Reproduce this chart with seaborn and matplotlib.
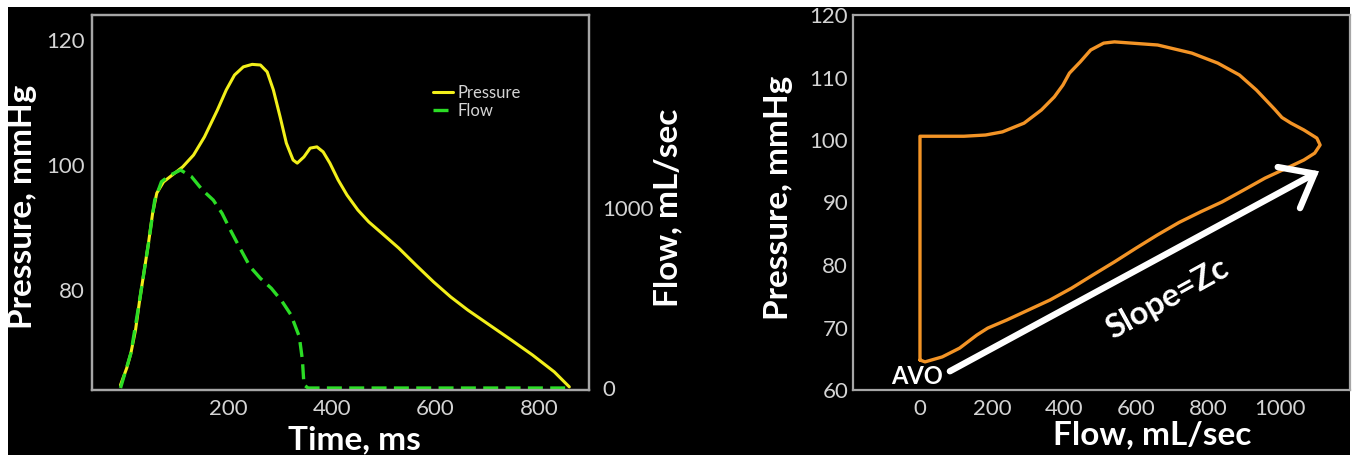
import matplotlib
matplotlib.use("Agg")
import matplotlib.pyplot as plt
import seaborn as sns
from matplotlib.patches import Rectangle

# --- data ---
# left panel: pressure and flow over one beat
time_p = [-8, 4, 12, 21, 29, 37, 46, 54, 62, 75, 92, 112, 133, 154, 179, 196,
          212, 229, 246, 262, 275, 287, 300, 312, 325, 333, 346, 358, 371, 383,
          396, 412, 429, 450, 471, 496, 529, 562, 596, 629, 662, 704, 746, 787,
          829, 858]
pressure = [64.8, 67.5, 69.9, 73.6, 78.4, 82.7, 87.5, 92.3, 95.5, 97.3, 98.4,
            99.7, 101.6, 104.5, 108.8, 112.0, 114.4, 115.7, 116.1, 116.0, 114.9,
            112.0, 107.7, 103.5, 100.8, 100.3, 101.3, 102.7, 102.9, 102.1, 100.3,
            97.6, 95.2, 92.8, 90.9, 89.1, 86.7, 84.0, 81.3, 78.9, 76.8, 74.4,
            72.0, 69.6, 66.9, 64.5]

time_f = [-8, 12, 29, 46, 58, 71, 88, 108, 129, 150, 171, 188, 204, 221, 242,
          262, 283, 304, 321, 337, 343, 346, 354, 850]
flow = [0, 193, 489, 804, 1044, 1146, 1183, 1211, 1174, 1100, 1044, 970, 878,
        785, 674, 609, 554, 480, 406, 285, 156, 17, 0, 0]

# right panel: pressure-flow loop
loop_flow = [0, 14, 62, 110, 158, 188, 241, 301, 361, 421, 480, 540, 600, 659,
             719, 779, 839, 899, 958, 1018, 1066, 1096, 1111,
             1102, 1066, 1030, 1005, 985, 934, 887, 827, 755, 660, 540, 510,
             474, 445, 415, 397, 373, 337, 289, 229, 182, 122, 0, 0]
loop_pressure = [64.8, 64.5, 65.3, 66.7, 68.8, 69.9, 71.2, 72.8, 74.4, 76.3,
                 78.4, 80.5, 82.7, 84.8, 86.8, 88.5, 90.1, 92.0, 93.9, 95.5,
                 96.8, 97.9, 99.2,
                 100.3, 101.6, 102.7, 103.6, 104.9, 108.0, 110.4, 112.3, 113.9,
                 115.2, 115.7, 115.5, 114.4, 112.5, 110.7, 108.8, 106.9, 104.8,
                 102.7, 101.3, 100.8, 100.6, 100.6, 64.8]

time_ticks = [200, 400, 600, 800]
pressure_ticks_left = [80, 100, 120]
flow_ticks_left = [0, 1000]
flow_ticks_right = [0, 200, 400, 600, 800, 1000]
pressure_ticks_right = [60, 70, 80, 90, 100, 110, 120]

# --- style ---
sns.set_theme(style="white")
plt.rcParams['font.family'] = ['Lato', 'DejaVu Sans']

W, H = 1357, 458
TICK_C = '#d4d4d4'
SPINE_C = '#a6a6a6'

fig = plt.figure(figsize=(W / 100, H / 100), dpi=100, facecolor='white')
fig.patches.append(Rectangle((8 / W, 3 / H), (1350 - 8) / W, (455 - 7) / H,
                             transform=fig.transFigure, facecolor='black',
                             edgecolor='none', zorder=-10))


def style_axes(a, xpad=6.5, ypad=4.5):
    a.set_facecolor('black')
    for s in a.spines.values():
        s.set_color(SPINE_C)
        s.set_linewidth(1.6)
    a.tick_params(colors=TICK_C, labelsize=16, length=0)
    a.tick_params(axis='x', pad=xpad)
    a.tick_params(axis='y', pad=ypad)


def set_label(lab):
    lab.set_color('white')
    lab.set_fontweight('bold')
    lab.set_fontsize(24)
    lab.set_va('center')
    lab.set_ha('center')


# --- left panel ---
ax = fig.add_axes([92 / W, 68 / H, 497 / W, 375 / H])
ax2 = ax.twinx()
style_axes(ax, ypad=5)
style_axes(ax2, ypad=9.5)
ax2.set_facecolor('none')

sns.lineplot(x=time_p, y=pressure, ax=ax, color='#f2ef1a', linewidth=2.2,
             legend=False)
sns.lineplot(x=time_f, y=flow, ax=ax2, color='#2bdc25', linewidth=2.4,
             linestyle=(0, (4.5, 2.2)), legend=False)

ax.set_xlim(-63, 896)
ax.set_ylim(64, 124)
ax2.set_ylim(-11, 2072)
ax.set_xticks(time_ticks)
ax.set_yticks(pressure_ticks_left)
ax2.set_yticks(flow_ticks_left)
ax.grid(False)
ax2.grid(False)

ax.set_xlabel('Time, ms')
ax.set_ylabel('Pressure, mmHg')
ax2.set_ylabel('Flow, mL/sec')
for lab in (ax.xaxis.label, ax.yaxis.label, ax2.yaxis.label):
    set_label(lab)
ax.xaxis.set_label_coords(0.529, -0.133)
ax.yaxis.set_label_coords(-0.139, 0.488)
ax2.yaxis.set_label_coords(1.159, 0.485)

leg = ax2.legend([ax.get_lines()[0], ax2.get_lines()[0]], ['Pressure', 'Flow'],
                 loc='upper left', bbox_to_anchor=(0.686, 0.813), frameon=False,
                 fontsize=12, handlelength=1.2, handletextpad=0.3,
                 labelspacing=0.1, borderpad=0, borderaxespad=0,
                 labelcolor='#d4d4d4')

# --- right panel ---
axr = fig.add_axes([853 / W, 68 / H, 497 / W, 375 / H])
style_axes(axr, ypad=3.5)
sns.lineplot(x=loop_flow, y=loop_pressure, ax=axr, sort=False, estimator=None,
             color='#f39426', linewidth=2.4, legend=False)
axr.set_xlim(-186, 1194)
axr.set_ylim(60, 120)
axr.set_xticks(flow_ticks_right)
axr.set_yticks(pressure_ticks_right)
axr.grid(False)
axr.set_xlabel('Flow, mL/sec')
axr.set_ylabel('Pressure, mmHg')
for lab in (axr.xaxis.label, axr.yaxis.label):
    set_label(lab)
axr.xaxis.set_label_coords(0.602, -0.12)
axr.yaxis.set_label_coords(-0.149, 0.512)

axr.annotate('', xy=(1108, 95.0), xytext=(83, 63.0),
             arrowprops=dict(arrowstyle='->, head_length=0.5, head_width=0.4',
                             color='white', lw=4.6, mutation_scale=42,
                             shrinkA=0, shrinkB=0, joinstyle='miter'))
axr.text(686, 74.6, 'Slope=Zc', rotation=29, rotation_mode='anchor',
         ha='center', va='center', fontsize=23.5, fontweight='bold', color='white')
axr.text(-8, 62.2, 'AVO', ha='center', va='center', fontsize=17,
         fontweight='bold', color='white')

fig.savefig('out.png', dpi=100, facecolor=fig.get_facecolor())
